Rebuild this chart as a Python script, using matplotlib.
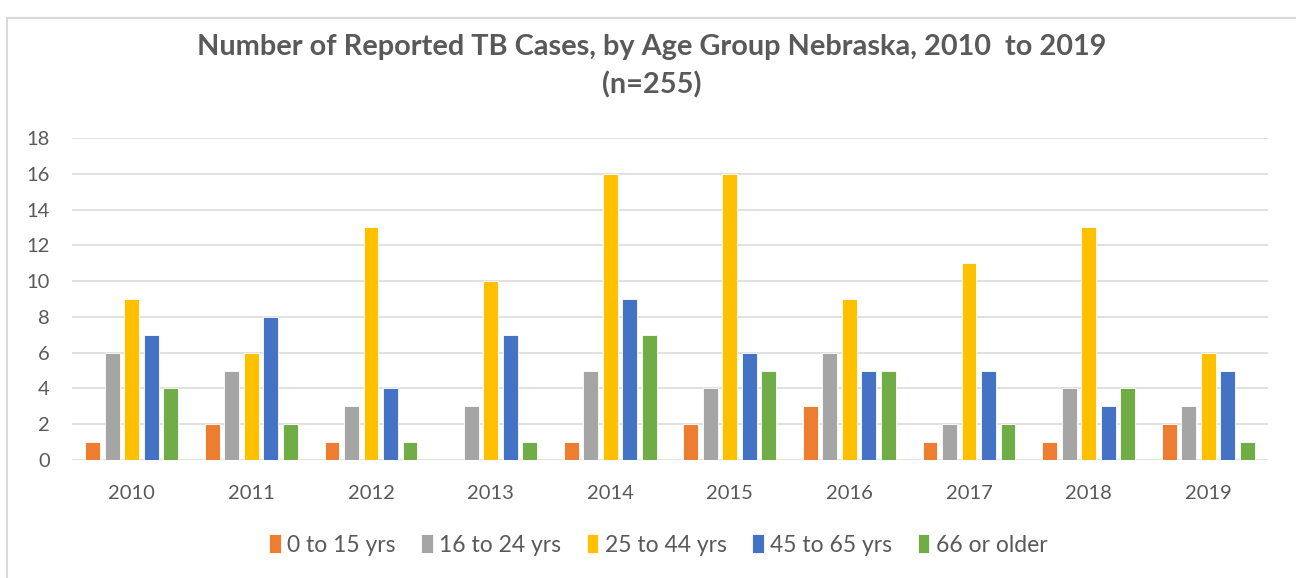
import numpy as np
import matplotlib
matplotlib.use("Agg")
from matplotlib import pyplot as plt
from matplotlib.patches import Rectangle

years = ['2010', '2011', '2012', '2013', '2014', '2015', '2016', '2017', '2018', '2019']
age_groups = ['0 to 15 yrs', '16 to 24 yrs', '25 to 44 yrs', '45 to 65 yrs', '66 or older']
age_0_15 = [1, 2, 1, 0, 1, 2, 3, 1, 1, 2]
age_16_24 = [6, 5, 3, 3, 5, 4, 6, 2, 4, 3]
age_25_44 = [9, 6, 13, 10, 16, 16, 9, 11, 13, 6]
age_45_65 = [7, 8, 4, 7, 9, 6, 5, 5, 3, 5]
age_66_up = [4, 2, 1, 1, 7, 5, 5, 2, 4, 1]
colors = ['#ED7D31', '#A5A5A5', '#FFC000', '#4472C4', '#70AD47']

plt.rcParams['font.family'] = ['Lato', 'DejaVu Sans']
text_color = '#595959'
grid_color = '#D9D9D9'

fig = plt.figure(figsize=(12.96, 5.78), dpi=100)
ax = fig.add_axes([72 / 1296, 1 - 460 / 578, 1196 / 1296, 322 / 578])

# chart border like the excel frame
fig.patches.append(Rectangle((7 / 1296, -0.05), 1.1, 1 - 18 / 578 + 0.05,
                             transform=fig.transFigure, fill=False,
                             edgecolor=grid_color, linewidth=1.5))

x = np.arange(len(years))
step = 0.163
width = 0.125
series = [age_0_15, age_16_24, age_25_44, age_45_65, age_66_up]
for i, vals in enumerate(series):
    ax.bar(x + (i - 2) * step, vals, width=width, color=colors[i],
           edgecolor='white', linewidth=0.6, label=age_groups[i], zorder=3)

ax.set_xlim(-0.5, len(years) - 0.5)
ax.set_ylim(0, 18)
ax.set_yticks(range(0, 19, 2))
ax.set_xticks(x)
ax.set_xticklabels(years)
ax.grid(axis='y', color=grid_color, linewidth=1.1, zorder=0)
for s in ['left', 'right', 'top', 'bottom']:
    ax.spines[s].set_visible(False)
ax.tick_params(axis='both', length=0, labelsize=14.5, colors=text_color)
ax.tick_params(axis='y', pad=16)
ax.tick_params(axis='x', pad=18)

fig.text(0.503, 0.919, 'Number of Reported TB Cases, by Age Group Nebraska, 2010  to 2019',
         ha='center', va='center', fontsize=20.8, fontweight='bold', color=text_color)
fig.text(0.503, 0.853, '(n=255)', ha='center', va='center', fontsize=20.8,
         fontweight='bold', color=text_color)

fig.legend(loc='center', bbox_to_anchor=(0.508, 0.057), ncol=5, frameon=False,
           fontsize=16.5, labelcolor=text_color, handlelength=0.5, handleheight=0.9,
           handletextpad=0.3, columnspacing=1.1)

fig.savefig('out.png', dpi=100, facecolor='white')
